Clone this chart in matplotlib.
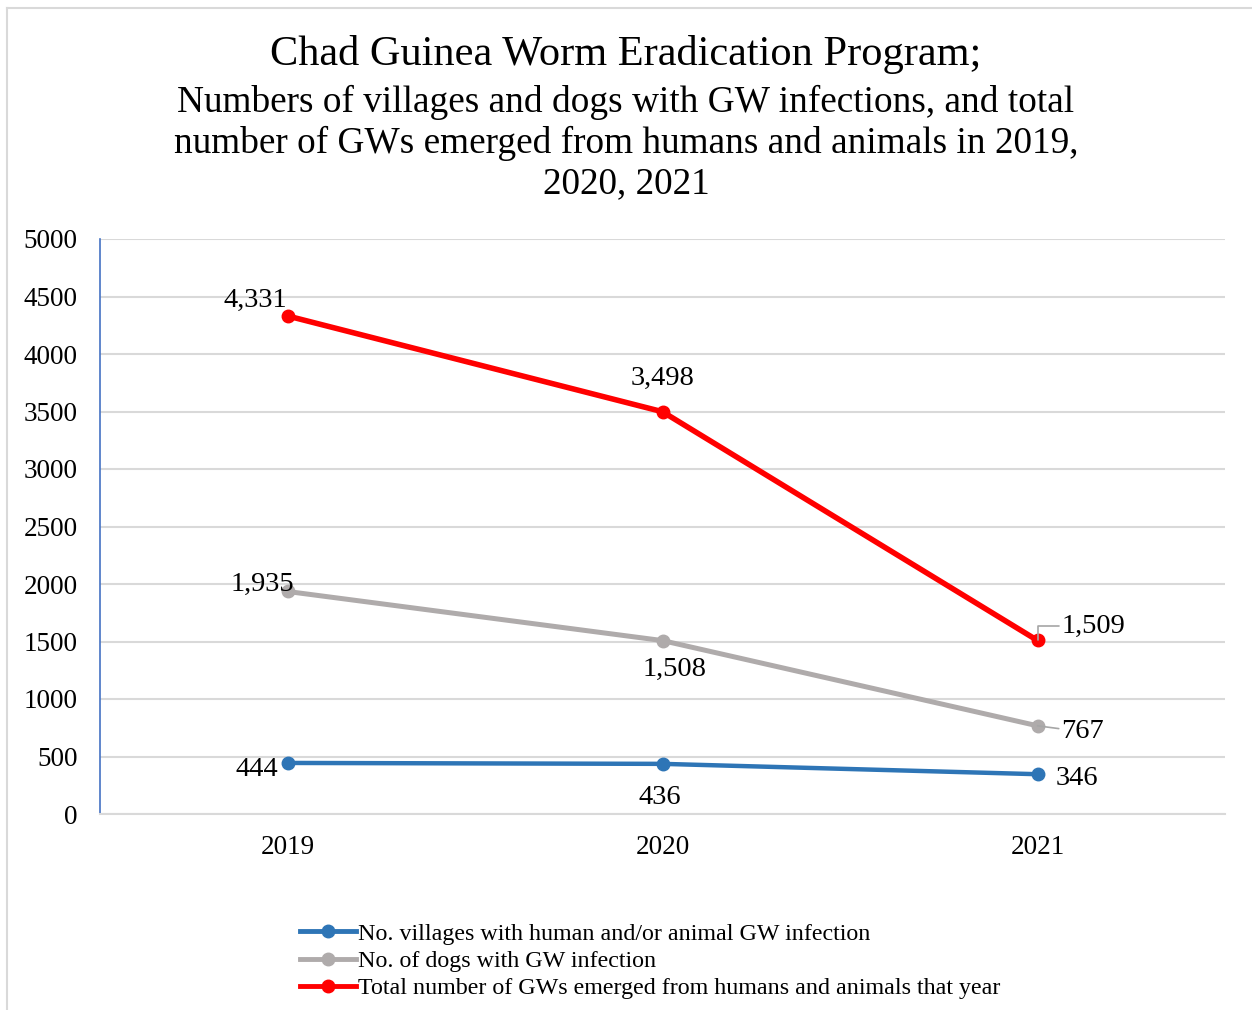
import matplotlib.pyplot as plt
from matplotlib.lines import Line2D

plt.rcParams['font.family'] = ['Liberation Serif', 'DejaVu Serif']

# data
years = ['2019', '2020', '2021']
villages = [444, 436, 346]
dogs = [1935, 1508, 767]
worms = [4331, 3498, 1509]

labels = ['No. villages with human and/or animal GW infection',
          'No. of dogs with GW infection',
          'Total number of GWs emerged from humans and animals that year']
colors = ['#2E75B6', '#AFABAB', '#FF0000']
widths = [3.2, 3.6, 4.0]

fig = plt.figure(figsize=(12.52, 10.10), dpi=100)
ax = fig.add_axes([100 / 1252, 1 - 814 / 1010, 1125 / 1252, 575 / 1010])

x = list(range(len(years)))
series = [villages, dogs, worms]
for vals, c, lw, lab in zip(series, colors, widths, labels):
    ax.plot(x, vals, color=c, lw=lw, marker='o', ms=9, label=lab, zorder=3)

ax.set_xlim(-0.5, 2.5)
ax.set_ylim(0, 5000)
ax.set_yticks(range(0, 5001, 500))
ax.set_xticks(x)
ax.set_xticklabels(years)
ax.tick_params(axis='both', length=0, labelsize=19.5)
ax.tick_params(axis='x', pad=15)
ax.tick_params(axis='y', pad=16)
ax.grid(axis='y', color='#D9D9D9', lw=1.5)
ax.set_axisbelow(True)
for s in ['top', 'right']:
    ax.spines[s].set_visible(False)
ax.spines['bottom'].set_color('#D9D9D9')
ax.spines['bottom'].set_linewidth(1.5)
ax.spines['left'].set_color('#4472C4')
ax.spines['left'].set_linewidth(1.2)

# data labels
fs = 20.5
def lbl(vals, i, dx, dy, ha='center'):
    ax.annotate(f'{vals[i]:,}', (x[i], vals[i]), xytext=(dx, dy),
                textcoords='offset pixels', ha=ha, va='center', fontsize=fs)

lbl(worms, 0, -32, 16)
lbl(worms, 1, 0, 33)
lbl(dogs, 0, -25, 7)
lbl(dogs, 1, 12, -29)
lbl(villages, 0, -9, -7, ha='right')
lbl(villages, 1, -3, -34)
lbl(villages, 2, 18, -4, ha='left')

# labels with leader lines
ax.annotate(f'{worms[2]:,}', (x[2], worms[2]), xytext=(24, 14),
            textcoords='offset pixels', ha='left', va='center', fontsize=fs,
            arrowprops=dict(arrowstyle='-', color='#A6A6A6', lw=1.2,
                            shrinkA=0, shrinkB=0,
                            connectionstyle='angle,angleA=0,angleB=90,rad=0'))
ax.annotate(f'{dogs[2]:,}', (x[2], dogs[2]), xytext=(24, -6),
            textcoords='offset pixels', ha='left', va='center', fontsize=fs,
            arrowprops=dict(arrowstyle='-', color='#A6A6A6', lw=1.2,
                            shrinkA=0, shrinkB=0))

# title
fig.text(0.5, 1 - 55 / 1010, 'Chad Guinea Worm Eradication Program;',
         ha='center', va='center', fontsize=30.5)
fig.text(0.5, 1 - 143 / 1010,
         'Numbers of villages and dogs with GW infections, and total\n'
         'number of GWs emerged from humans and animals in 2019,\n'
         '2020, 2021',
         ha='center', va='center', fontsize=26.8, linespacing=1.2)

# legend
handles = [Line2D([], [], color=c, lw=3.5, marker='o', ms=9) for c in colors]
fig.legend(handles, labels, loc='upper left',
           bbox_to_anchor=(300 / 1252, 1 - 923 / 1010), frameon=False,
           fontsize=17.3, handlelength=2.35, handletextpad=0.05,
           labelspacing=0.22, borderpad=0, borderaxespad=0)

# outer chart border (top and left visible)
fig.add_artist(Line2D([7 / 1252, 7 / 1252], [0, 1 - 8 / 1010],
                      transform=fig.transFigure, color='#D9D9D9', lw=1.5))
fig.add_artist(Line2D([7 / 1252, 1], [1 - 8 / 1010, 1 - 8 / 1010],
                      transform=fig.transFigure, color='#D9D9D9', lw=1.5))

fig.savefig('out.png', dpi=100)
